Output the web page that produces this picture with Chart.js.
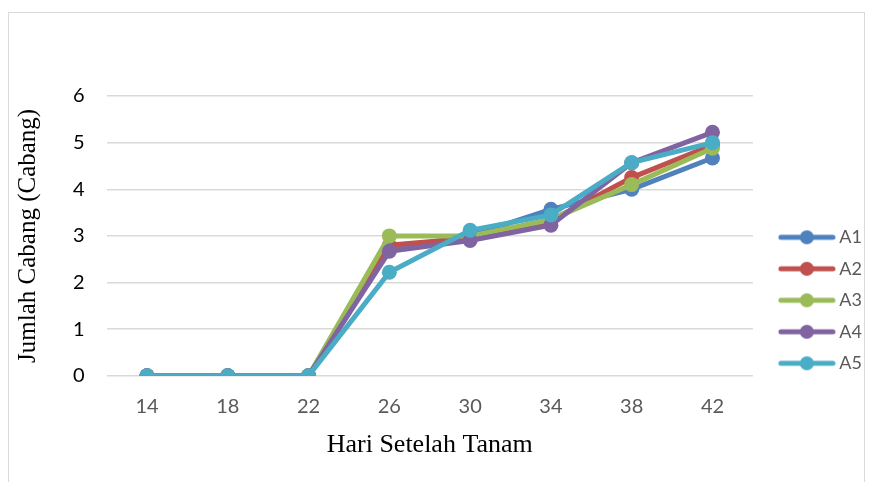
<!DOCTYPE html>
<html>
<head>
<meta charset="utf-8">
<script src="https://cdn.jsdelivr.net/npm/chart.js@4.4.0/dist/chart.umd.min.js"></script>
<style>
  html, body { margin: 0; padding: 0; background: #fff; overflow: hidden; }
  #wrap { position: relative; width: 869px; height: 482px; }
  #frame { position: absolute; left: 8px; top: 12px; width: 857px; height: 500px; border: 1px solid #d9d9d9; box-sizing: border-box; }
  canvas { position: absolute; left: 0; top: 0; }
</style>
</head>
<body>
<div id="wrap">
  <div id="frame"></div>
  <canvas id="chart" width="869" height="482"></canvas>
</div>
<script>
  const days = ["14", "18", "22", "26", "30", "34", "38", "42"];
  const seriesNames = ["A1", "A2", "A3", "A4", "A5"];
  const a1 = [0, 0, 0, 2.72, 3.0, 3.57, 4.0, 4.67];
  const a2 = [0, 0, 0, 2.8, 2.95, 3.33, 4.25, 4.95];
  const a3 = [0, 0, 0, 3.0, 3.0, 3.35, 4.1, 4.88];
  const a4 = [0, 0, 0, 2.67, 2.9, 3.23, 4.57, 5.22];
  const a5 = [0, 0, 0, 2.22, 3.12, 3.45, 4.57, 5.0];
  const yTicks = [0, 1, 2, 3, 4, 5, 6];
  const colors = ["#4f81bd", "#c0504d", "#9bbb59", "#8064a2", "#4bacc6"];

  // legend marker: short line with a dot in the middle, like the Excel legend
  const legendIcon = (color) => {
    const c = document.createElement("canvas");
    c.width = 58;
    c.height = 16;
    const ctx = c.getContext("2d");
    ctx.strokeStyle = color;
    ctx.lineWidth = 5;
    ctx.lineCap = "round";
    ctx.beginPath();
    ctx.moveTo(3, 8);
    ctx.lineTo(55, 8);
    ctx.stroke();
    ctx.fillStyle = color;
    ctx.beginPath();
    ctx.arc(29, 8, 7, 0, Math.PI * 2);
    ctx.fill();
    return c;
  };

  const values = [a1, a2, a3, a4, a5];
  const datasets = values.map((data, i) => ({
    label: seriesNames[i],
    data,
    borderColor: colors[i],
    backgroundColor: colors[i],
    borderWidth: 5,
    pointRadius: 7.5,
    pointHoverRadius: 7.5,
    pointBorderWidth: 0,
    tension: 0,
    order: values.length - i,
  }));

  new Chart(document.getElementById("chart"), {
    type: "line",
    data: { labels: days, datasets },
    options: {
      responsive: false,
      animation: false,
      layout: { padding: { left: 13, top: 96, right: -3, bottom: 21 } },
      plugins: {
        tooltip: { enabled: false },
        legend: {
          position: "right",
          title: { display: true, text: " ", padding: { top: 34, bottom: 0 }, font: { size: 8 } },
          labels: {
            usePointStyle: true,
            pointStyleWidth: 47,
            padding: 13.5,
            color: "#595959",
            font: { family: "Lato", size: 18 },
            generateLabels: (chart) =>
              chart.data.datasets.map((ds, i) => ({
                text: ds.label,
                pointStyle: legendIcon(ds.borderColor),
                fillStyle: ds.borderColor,
                strokeStyle: ds.borderColor,
                lineWidth: 0,
                fontColor: "#595959",
                datasetIndex: i,
              })),
          },
        },
      },
      scales: {
        x: {
          offset: true,
          grid: { display: false, drawTicks: false },
          border: { display: false },
          ticks: { color: "#595959", font: { family: "Lato", size: 20 }, padding: 19 },
          title: {
            display: true,
            text: "Hari Setelah Tanam",
            color: "#000",
            font: { family: "Liberation Serif", size: 26 },
            padding: { top: -8, bottom: 0 },
          },
        },
        y: {
          min: 0,
          max: 6,
          afterBuildTicks: (scale) => {
            scale.ticks = yTicks.map((v) => ({ value: v }));
          },
          grid: { color: "#d9d9d9", lineWidth: 1.5, drawTicks: false },
          border: { display: false },
          ticks: { color: "#000", font: { family: "Lato", size: 20 }, padding: 22 },
          title: {
            display: true,
            text: "Jumlah Cabang (Cabang)",
            color: "#000",
            font: { family: "Liberation Serif", size: 25 },
            padding: { top: 0, bottom: 8 },
          },
        },
        // empty spacer between plot and legend
        gap: {
          position: "right",
          display: true,
          grid: { display: false, drawTicks: false },
          border: { display: false },
          ticks: { display: false },
          afterFit: (scale) => {
            scale.width = 17;
          },
        },
      },
    },
  });
</script>
</body>
</html>
